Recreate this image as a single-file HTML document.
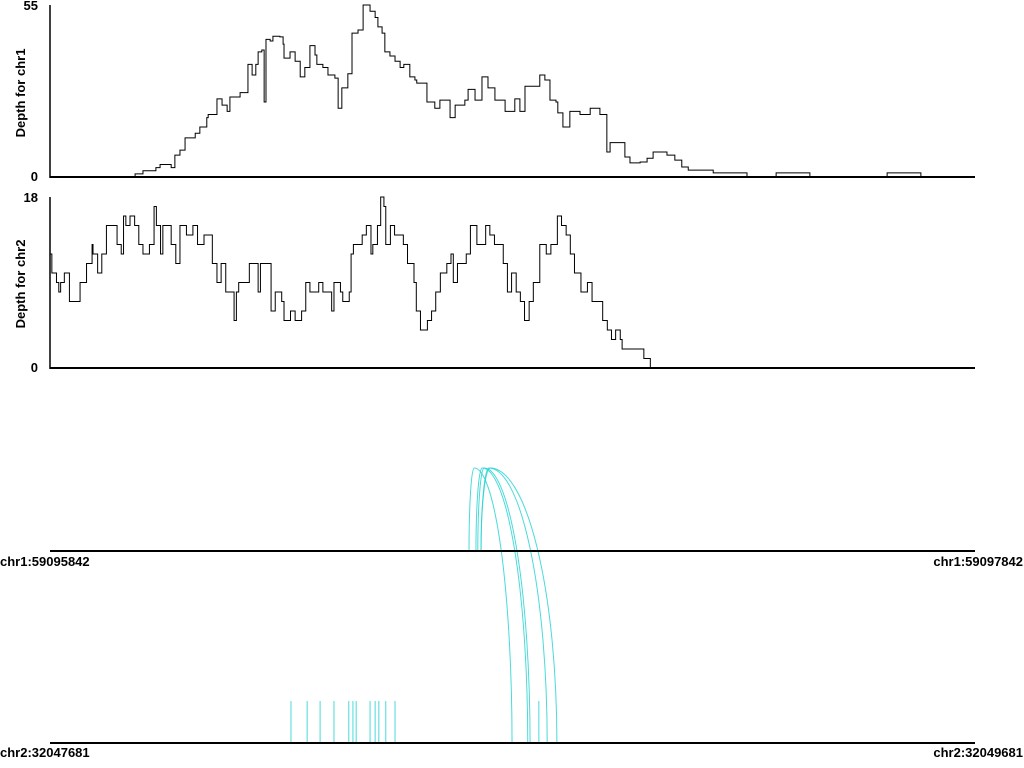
<!DOCTYPE html>
<html><head><meta charset="utf-8"><style>
html,body{margin:0;padding:0;background:#fff}
svg{display:block}
text{font-family:"Liberation Sans",sans-serif;font-weight:bold;font-size:13px;fill:#000}
</style></head><body>
<svg id="chart" width="1024" height="768" viewBox="0 0 1024 768" xmlns="http://www.w3.org/2000/svg">
<g id="g1"></g>
<g id="g2"></g>
<g id="g3"></g>
</svg>
<script>
// chr1 depth: step starts (bp offset from 59095842) and depth values
const chr1Pos=[0,184,201,229,238,262,270,281,292,314,324,339,342,361,372,383,389,411,422,428,437,445,450,458,463,467,476,482,497,504,506,519,530,541,551,562,573,577,590,601,616,623,631,644,653,666,677,692,703,709,718,724,735,746,757,765,778,789,793,815,832,843,865,876,897,904,919,934,947,962,984,1005,1016,1027,1038,1059,1070,1081,1094,1098,1109,1124,1146,1168,1189,1204,1211,1232,1243,1254,1276,1291,1304,1330,1334,1351,1366,1380,1434,1507,1570,1643,1810,1883];
const chr1Depth=[0,1,2,3,4,3,7,8.6,12.5,14,16,19,20,25,23,21,25.6,27,27,36,32.6,36,40,40.6,24,44,43.5,45,44.8,42.5,38,40,37,32,35,42,39,36,35,32.6,31.6,22,28.5,33,46,47,55,53,51,48,46,40,38.7,37,35,36,32,31,30,24,22,24.6,19,23,24.6,28,24.6,32,28.5,24.6,21,25,21,29,29,32.6,31,24.6,24,20.5,16,21,20,22,20,8,11,11,6.4,4.5,4.8,6,8,8,7,5.4,3.2,2.2,1.3,0,1.3,0,1.3,0];
// chr2 depth (bp offset from 32047681)
const chr2Pos=[0,4,14,19,23,31,42,65,79,91,93,103,112,122,145,154,159,164,173,183,192,201,215,225,230,239,244,262,272,281,295,309,319,333,351,361,370,380,398,403,408,431,450,455,478,487,501,506,520,530,544,553,562,581,590,609,614,628,633,647,651,656,675,684,694,698,708,715,722,726,736,745,764,773,787,792,801,816,825,834,844,858,867,872,881,900,909,923,942,951,961,980,989,998,1008,1017,1026,1036,1045,1059,1073,1083,1097,1106,1116,1125,1134,1148,1162,1172,1195,1205,1214,1223,1233,1237,1284,1298];
const chr2Depth=[12,10,9,8,9,10,7,9,11,13,12,10,12,15,13,12,16,15,16,15,13,12,13,17,15,12,15,13,11,15,14,15,13,14,11,9,11,8,5,8,9,11,8,11,6,8,7,5,6,5,6,9,8,9,8,6,9,8,7,8,12,13,14,15,12,13,15,18,17,13,15,14,13,11,9,6,4,5,6,8,10,11,12,9,11,12,15,13,15,14,13,11,8,10,8,7,5,7,9,13,12,13,16,15,14,12,10,8,9,7,5,4,3,4,3,2,1,0];
// links: chr1 bp -> chr2 bp
const linkChr1=[906,921,925,932,932];
const linkChr2=[999,1033,1038,1075,1096];
// single chr2 read ends (bp)
const chr2Reads=[521,556,584,614,646,655,662,692,703,711,726,746,1057];
const regionLen=2000, chr1Max=55, chr2Max=18;
const X0=50,X1=975;
const NS='http://www.w3.org/2000/svg';
const xs=bp=>X0+bp/regionLen*(X1-X0);
function mk(parent,tag,attrs,txt){const e=document.createElementNS(NS,tag);for(const k in attrs)e.setAttribute(k,attrs[k]);if(txt!==undefined)e.textContent=txt;parent.appendChild(e);return e;}
function depthPanel(g,pos,dep,maxV,top,bot,label,lblY){
  const ys=v=>bot-v/maxV*(bot-top);
  let d='M'+xs(pos[0])+','+ys(dep[0]);
  for(let i=0;i<pos.length;i++){
    const xa=xs(pos[i]);const xb=i+1<pos.length?xs(pos[i+1]):X1;
    if(i>0)d+=' L'+xa+','+ys(dep[i]);
    d+=' L'+xb+','+ys(dep[i]);
  }
  const p=mk(g,'path',{d:d,fill:'none',stroke:'#000','stroke-width':1});
  
  
  const xa=mk(g,'line',{x1:X0,y1:bot,x2:X1,y2:bot,stroke:'#000','stroke-width':2});
  
  
  const ya=mk(g,'line',{x1:X0,y1:top,x2:X0,y2:bot+1,stroke:'#000','stroke-width':1.5});
  
  
  const t1=mk(g,'text',{x:38,y:top+5,'text-anchor':'end'},String(maxV));
  
  
  const t0=mk(g,'text',{x:38,y:bot+4,'text-anchor':'end'},'0');
  
  
  const yt=mk(g,'text',{transform:'translate(25,'+lblY+') rotate(-90)','text-anchor':'middle','font-size':'14.5'},'Depth for '+label);
  
  
}
depthPanel(document.getElementById('g1'),chr1Pos,chr1Depth,chr1Max,5,177,'chr1',93);
depthPanel(document.getElementById('g2'),chr2Pos,chr2Depth,chr2Max,197,368,'chr2',284);
const g3=document.getElementById('g3');
const Y1=551,Y2=743,PEAK=468,RTOP=701;
for(let i=0;i<linkChr1.length;i++){
  const a=xs(linkChr1[i]),b=xs(linkChr2[i]);const pk=a+(b-a)*0.12;
  const d='M'+a+','+Y1+' A'+(pk-a)+','+(Y1-PEAK)+' 0 0 1 '+pk+','+PEAK+' A'+(b-pk)+','+(Y2-PEAK)+' 0 0 1 '+b+','+Y2;
  const p=mk(g3,'path',{d:d,fill:'none',stroke:'#2ad4d4','stroke-width':1,opacity:0.85});
  
  
}
for(const r of chr2Reads){
  const l=mk(g3,'line',{x1:xs(r),y1:RTOP,x2:xs(r),y2:Y2,stroke:'#2ad4d4','stroke-width':1,opacity:0.85});
  
  
}
const b1=mk(g3,'line',{x1:X0,y1:Y1,x2:X1,y2:Y1,stroke:'#000','stroke-width':2});


const b2=mk(g3,'line',{x1:X0,y1:Y2,x2:X1,y2:Y2,stroke:'#000','stroke-width':2});


const labels=[['chr1:59095842',0,566,'start','chr1-start-label'],['chr1:59097842',1023,566,'end','chr1-end-label'],['chr2:32047681',0,757,'start','chr2-start-label'],['chr2:32049681',1023,757,'end','chr2-end-label']];
for(const L of labels){
  const t=mk(g3,'text',{x:L[1],y:L[2],'text-anchor':L[3],'font-size':'15'},L[0]);
  
  
}
</script>
</body></html>
